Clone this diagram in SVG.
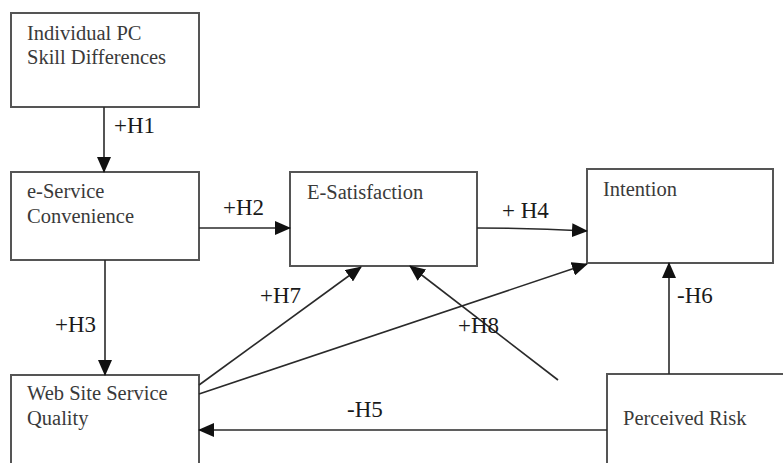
<svg xmlns="http://www.w3.org/2000/svg" width="783" height="463" viewBox="0 0 783 463">
<style>
.box{fill:#fff;stroke:#555;stroke-width:2}
.nt{font-family:"Liberation Serif","Times New Roman",serif;font-size:20.5px;fill:#3a3a3a}
.lb{font-family:"Liberation Serif","Times New Roman",serif;font-size:23px;fill:#1a1a1a}
.cn{stroke:#2a2a2a;stroke-width:1.6;fill:none;marker-end:url(#ah)}
</style>
<defs>
<marker id="ah" markerUnits="userSpaceOnUse" markerWidth="16" markerHeight="14" refX="15" refY="7" orient="auto">
<path d="M0,0 L16,7 L0,14 Z" fill="#111"/>
</marker>
</defs>
<rect width="783" height="463" fill="#fff"/>
<g id="n1"><rect class="box" x="11" y="13" width="188" height="94"/><text class="nt" x="27" y="40">Individual PC</text><text class="nt" x="27" y="64">Skill Differences</text></g>
<g id="n2"><rect class="box" x="11" y="172" width="188" height="88"/><text class="nt" x="27" y="198">e-Service</text><text class="nt" x="27" y="223">Convenience</text></g>
<g id="n3"><rect class="box" x="290" y="172" width="187" height="94"/><text class="nt" x="307" y="199">E-Satisfaction</text></g>
<g id="n4"><rect class="box" x="587" y="169" width="186" height="94"/><text class="nt" x="603" y="196">Intention</text></g>
<g id="n5"><rect class="box" x="11" y="375" width="188" height="100"/><text class="nt" x="27" y="400">Web Site Service</text><text class="nt" x="27" y="425">Quality</text></g>
<g id="n6"><rect class="box" x="607" y="374" width="190" height="100"/><text class="nt" x="623" y="425">Perceived Risk</text></g>
<g id="connectors">
<line class="cn" x1="104" y1="107" x2="104" y2="172"/>
<line class="cn" x1="199" y1="228" x2="290" y2="228"/>
<path class="cn" d="M477,228 Q530,228 587,231"/>
<line class="cn" x1="105" y1="260" x2="105" y2="375"/>
<line class="cn" x1="199" y1="385" x2="361" y2="267"/>
<line class="cn" x1="199" y1="394" x2="587" y2="264"/>
<line class="cn" x1="558" y1="380" x2="410" y2="266"/>
<line class="cn" x1="669" y1="374" x2="669" y2="263"/>
<line class="cn" x1="607" y1="430" x2="199" y2="430"/>
</g>
<g id="labels">
<text class="lb" x="114" y="133">+H1</text>
<text class="lb" x="223" y="215">+H2</text>
<text class="lb" x="502" y="218">+ H4</text>
<text class="lb" x="55" y="332">+H3</text>
<text class="lb" x="260" y="303">+H7</text>
<text class="lb" x="458" y="333">+H8</text>
<text class="lb" x="677" y="303">-H6</text>
<text class="lb" x="347" y="417">-H5</text>
</g>
</svg>
